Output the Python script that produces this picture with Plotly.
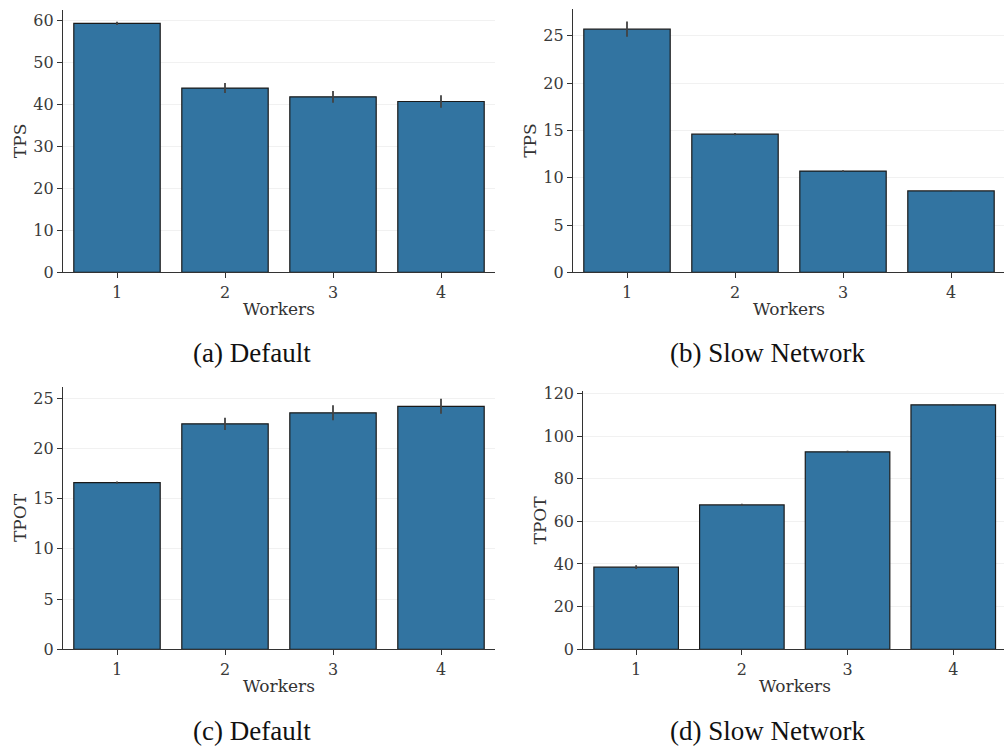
import plotly.graph_objects as go

# Worker counts shared by every panel
workers = ["1", "2", "3", "4"]

# (a) throughput, default network
tps_default = [59.3, 43.9, 41.8, 40.7]
tps_default_err = [0.4, 1.2, 1.4, 1.5]

# (b) throughput, slow network
tps_slow = [25.7, 14.6, 10.7, 8.6]
tps_slow_err = [0.8, 0.12, 0.1, 0.05]

# (c) time per output token, default network
tpot_default = [16.6, 22.45, 23.55, 24.2]
tpot_default_err = [0.12, 0.6, 0.75, 0.75]

# (d) time per output token, slow network
tpot_slow = [38.5, 67.7, 92.6, 114.6]
tpot_slow_err = [0.9, 0.5, 0.5, 0.3]

y_titles = ["TPS", "TPS", "TPOT", "TPOT"]
captions = ["(a) Default", "(b) Slow Network", "(c) Default", "(d) Slow Network"]
y_ticks = [
    [0, 10, 20, 30, 40, 50, 60],
    [0, 5, 10, 15, 20, 25],
    [0, 5, 10, 15, 20, 25],
    [0, 20, 40, 60, 80, 100, 120],
]
y_ranges = [[0, 62.5], [0, 27.8], [0, 26.15], [0, 121.1]]

W, H = 1004, 751

# panel geometry in pixels: left, right, top, bottom of each plotting area
boxes = [
    (63, 495, 10, 272.3),
    (573, 1004, 9.3, 272.3),
    (63, 495, 386.7, 649.3),
    (583.3, 1004, 391, 649.3),
]
step_px = [108.0, 108.0, 108.0, 105.7]
caption_xy = [(251.5, 353), (767, 353), (251.5, 731), (767, 731)]

BAR = "#3274a1"
INK = "#333333"
TICK_FONT = dict(family="DejaVu Serif", size=16, color="#3a3a3a")
TITLE_FONT = dict(family="DejaVu Serif", size=17, color="#333333")
CAP_FONT = dict(family="'Liberation Serif', Tinos, 'Times New Roman', serif",
                size=27, color="#111111")

series = [
    (tps_default, tps_default_err),
    (tps_slow, tps_slow_err),
    (tpot_default, tpot_default_err),
    (tpot_slow, tpot_slow_err),
]

fig = go.Figure()
annotations = []
layout = {}

for i, ((vals, errs), box) in enumerate(zip(series, boxes)):
    n = "" if i == 0 else str(i + 1)
    left, right, top, bottom = box
    fig.add_trace(go.Bar(
        x=workers, y=vals,
        xaxis="x" + n, yaxis="y" + n,
        width=0.8,
        marker=dict(color=BAR, line=dict(color="#1a1a1a", width=1.2)),
        error_y=dict(type="data", array=errs, visible=True,
                     color="#424242", thickness=1.8, width=0),
        showlegend=False,
    ))
    # categories span the full width of the area; right panels are clipped by the page edge
    span = (right - left) / step_px[i]
    layout["xaxis" + n] = dict(
        domain=[left / W, right / W],
        anchor="y" + n,
        type="category",
        range=[-0.5, -0.5 + span],
        showline=True, linecolor=INK, linewidth=1.2,
        ticks="outside", ticklen=5, tickwidth=1.2, tickcolor=INK,
        tickfont=TICK_FONT,
        showgrid=False, zeroline=False,
        automargin=False, fixedrange=True,
    )
    layout["yaxis" + n] = dict(
        domain=[1 - bottom / H, 1 - top / H],
        anchor="x" + n,
        range=y_ranges[i],
        tickvals=y_ticks[i],
        showline=True, linecolor=INK, linewidth=1.2,
        ticks="outside", ticklen=5, tickwidth=1.2, tickcolor=INK,
        tickfont=TICK_FONT,
        showgrid=True, gridcolor="#f1f1f1", gridwidth=1,
        zeroline=False,
        automargin=False, fixedrange=True,
    )
    # y title
    annotations.append(dict(
        text=y_titles[i], textangle=-90,
        x=(left - 43) / W, y=1 - (top + bottom) / 2 / H,
        xref="paper", yref="paper", xanchor="center", yanchor="middle",
        showarrow=False, font=TITLE_FONT,
    ))
    # x title, centred on the full category span
    cx = left + 2 * step_px[i]
    annotations.append(dict(
        text="Workers",
        x=cx / W, y=1 - (bottom + 37) / H,
        xref="paper", yref="paper", xanchor="center", yanchor="middle",
        showarrow=False, font=TITLE_FONT,
    ))
    # caption under the panel
    annotations.append(dict(
        text=captions[i],
        x=caption_xy[i][0] / W, y=1 - caption_xy[i][1] / H,
        xref="paper", yref="paper", xanchor="center", yanchor="middle",
        showarrow=False, font=CAP_FONT,
    ))

fig.update_layout(
    template="none",
    width=W, height=H,
    margin=dict(l=0, r=0, t=0, b=0, autoexpand=False),
    paper_bgcolor="white", plot_bgcolor="white",
    bargap=0.2,
    annotations=annotations,
    **layout,
)

fig.write_html("out.html", config={"displayModeBar": False})
